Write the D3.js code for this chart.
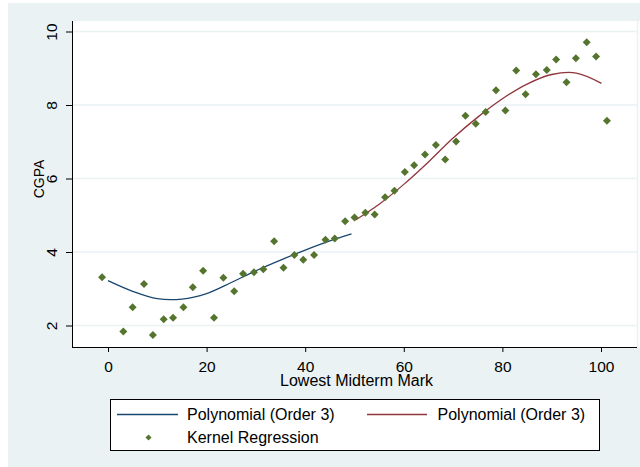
<!DOCTYPE html>
<html>
<head>
<meta charset="utf-8">
<script src="https://cdn.jsdelivr.net/npm/d3@7"></script>
<style>
  body { margin: 0; background: #ffffff; }
  svg { display: block; font-family: "Liberation Sans", Arial, sans-serif; }
</style>
</head>
<body>
<svg width="640" height="467"></svg>
<script>
// ---------- data ----------
var kernX = [-1.2, 3.1, 5.0, 7.3, 9.1, 11.3, 13.2, 15.3, 17.2, 19.3, 21.5, 23.4, 25.6, 27.4, 29.6,
             31.5, 33.7, 35.6, 37.8, 39.6, 41.8, 44.1, 46.0, 48.1, 50.0, 52.2, 54.1, 56.2, 58.1, 60.2,
             62.1, 64.3, 66.5, 68.4, 70.6, 72.5, 74.6, 76.6, 78.7, 80.6, 82.8, 84.7, 86.8, 89.0, 90.9,
             93.0, 94.9, 97.1, 99.0, 101.2];
var kernY = [3.31, 1.84, 2.50, 3.13, 1.74, 2.17, 2.21, 2.50, 3.04, 3.49, 2.21, 3.30, 2.93, 3.41, 3.45,
             3.53, 4.29, 3.57, 3.92, 3.79, 3.92, 4.33, 4.37, 4.84, 4.94, 5.07, 5.02, 5.49, 5.67, 6.18,
             6.36, 6.65, 6.91, 6.52, 7.01, 7.71, 7.49, 7.81, 8.40, 7.85, 8.94, 8.29, 8.84, 8.95, 9.24,
             8.62, 9.27, 9.71, 9.32, 7.57];

// first polynomial fit (lower half)
var poly1X = [0, 5, 10, 15, 20, 25, 30, 35, 40, 45, 49.4];
var poly1Y = [3.22, 2.93, 2.73, 2.72, 2.87, 3.17, 3.49, 3.78, 4.05, 4.30, 4.49];

// second polynomial fit (upper half)
var poly2X = [50.2, 55, 60, 65, 70, 75, 80, 85, 90, 95, 100.1];
var poly2Y = [4.87, 5.30, 5.84, 6.45, 7.10, 7.67, 8.17, 8.57, 8.83, 8.87, 8.59];

var xTicks = [0, 20, 40, 60, 80, 100];
var yTicks = [2, 4, 6, 8, 10];

var legendLabels = ["Polynomial (Order 3)", "Polynomial (Order 3)", "Kernel Regression"];

// ---------- colours (stata s2color) ----------
var bgColor = "#eaf2f3";
var blue = "#1a476f";
var red = "#90353b";
var green = "#55752f";

var svg = d3.select("svg");

// plot region
var plot = {l: 72, r: 637, t: 21, b: 347};

var x = d3.scaleLinear().domain([0, 100]).range([108, 601]);
var y = d3.scaleLinear().domain([2, 10]).range([325.5, 31.5]);

// graph region background
svg.append("rect")
    .attr("x", 8).attr("y", 3)
    .attr("width", 640).attr("height", 470)
    .attr("fill", bgColor);

// white plot region
svg.append("rect")
    .attr("x", plot.l).attr("y", plot.t)
    .attr("width", 640 - plot.l).attr("height", plot.b - plot.t)
    .attr("fill", "#ffffff");
svg.append("line")
    .attr("x1", plot.r + 0.5).attr("x2", plot.r + 0.5)
    .attr("y1", plot.t).attr("y2", plot.b)
    .attr("stroke", bgColor).attr("stroke-width", 1.5);

// gridlines
svg.append("g").selectAll("line")
    .data(yTicks)
    .enter().append("line")
    .attr("x1", plot.l).attr("x2", plot.r)
    .attr("y1", function(d) { return y(d); })
    .attr("y2", function(d) { return y(d); })
    .attr("stroke", bgColor).attr("stroke-width", 1.5);

// ---------- axes ----------
var xAxis = svg.append("g")
    .attr("transform", "translate(0," + plot.b + ")")
    .call(d3.axisBottom(x).tickValues(xTicks).tickSize(5).tickPadding(4).tickSizeOuter(0));
xAxis.select(".domain").remove();
xAxis.append("line")
    .attr("x1", plot.l).attr("x2", plot.r)
    .attr("y1", 0.5).attr("y2", 0.5)
    .attr("stroke", "#000");
xAxis.selectAll(".tick line").attr("stroke", "#000");
xAxis.selectAll(".tick text")
    .attr("fill", "#000")
    .attr("font-size", "15.5px")
    .attr("font-family", "Liberation Sans, Arial, sans-serif")
    .attr("dy", null)
    .attr("y", 24.5);

var yAxis = svg.append("g")
    .attr("transform", "translate(" + plot.l + ",0)")
    .call(d3.axisLeft(y).tickValues(yTicks).tickSize(6).tickSizeOuter(0));
yAxis.select(".domain").remove();
yAxis.append("line")
    .attr("x1", 0.5).attr("x2", 0.5)
    .attr("y1", plot.t).attr("y2", plot.b + 1)
    .attr("stroke", "#000");
yAxis.selectAll(".tick line").attr("stroke", "#000");
yAxis.selectAll(".tick text")
    .attr("fill", "#000")
    .attr("font-size", "15.5px")
    .attr("font-family", "Liberation Sans, Arial, sans-serif")
    .attr("x", null).attr("dy", null)
    .attr("text-anchor", "middle")
    .attr("transform", "translate(-15,0) rotate(-90)");

// axis titles
svg.append("text")
    .attr("x", (plot.l + plot.r) / 2 + 2)
    .attr("y", 386)
    .attr("text-anchor", "middle")
    .attr("font-size", "16px")
    .text("Lowest Midterm Mark");

svg.append("text")
    .attr("transform", "translate(43.5,179) rotate(-90)")
    .attr("text-anchor", "middle")
    .attr("font-size", "14px")
    .text("CGPA");

// ---------- fitted lines ----------
var line = d3.line()
    .x(function(d) { return x(d[0]); })
    .y(function(d) { return y(d[1]); })
    .curve(d3.curveCatmullRom);

svg.append("path")
    .datum(d3.zip(poly1X, poly1Y))
    .attr("d", line)
    .attr("fill", "none")
    .attr("stroke", blue)
    .attr("stroke-width", 1.3);

svg.append("path")
    .datum(d3.zip(poly2X, poly2Y))
    .attr("d", line)
    .attr("fill", "none")
    .attr("stroke", red)
    .attr("stroke-width", 1.3);

// kernel regression markers (diamonds)
function diamond(s) {
    return "M0," + (-s) + "L" + s + ",0L0," + s + "L" + (-s) + ",0Z";
}
svg.append("g").selectAll("path")
    .data(d3.zip(kernX, kernY))
    .enter().append("path")
    .attr("d", diamond(4))
    .attr("transform", function(d) { return "translate(" + x(d[0]) + "," + y(d[1]) + ")"; })
    .attr("fill", green);

// ---------- legend ----------
var legend = svg.append("g");
legend.append("rect")
    .attr("x", 110.5).attr("y", 399.5)
    .attr("width", 489).attr("height", 51)
    .attr("fill", "#ffffff")
    .attr("stroke", "#000");

legend.append("line")
    .attr("x1", 117).attr("x2", 178).attr("y1", 414.5).attr("y2", 414.5)
    .attr("stroke", blue).attr("stroke-width", 1.3);
legend.append("text")
    .attr("x", 187).attr("y", 420).attr("font-size", "16px")
    .text(legendLabels[0]);

legend.append("line")
    .attr("x1", 367).attr("x2", 427).attr("y1", 414.5).attr("y2", 414.5)
    .attr("stroke", red).attr("stroke-width", 1.3);
legend.append("text")
    .attr("x", 437.5).attr("y", 420).attr("font-size", "16px")
    .text(legendLabels[1]);

legend.append("path")
    .attr("d", diamond(3))
    .attr("transform", "translate(148.5,437.5)")
    .attr("fill", green);
legend.append("text")
    .attr("x", 187).attr("y", 443).attr("font-size", "16px")
    .text(legendLabels[2]);
</script>
</body>
</html>
